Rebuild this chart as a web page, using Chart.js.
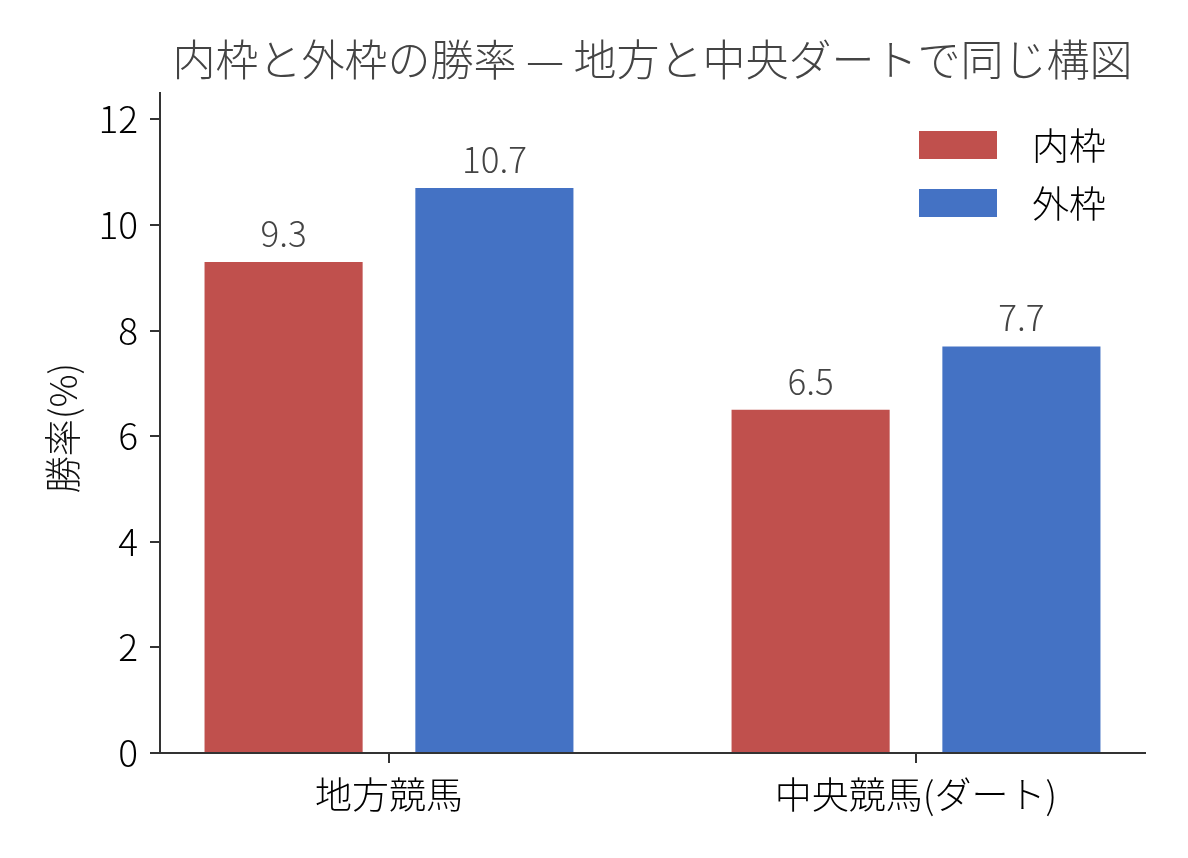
<!DOCTYPE html>
<html lang="ja">
<head>
<meta charset="utf-8">
<title>内枠と外枠の勝率</title>
<script src="https://cdn.jsdelivr.net/npm/chart.js@4.4.1/dist/chart.umd.min.js"></script>
<style>
  html, body { margin: 0; padding: 0; background: #fff; }
  #wrap { width: 1188px; height: 858px; }
</style>
</head>
<body>
<div id="wrap"><canvas id="rateChart" width="1188" height="858"></canvas></div>
<script>
const categories = ["地方競馬", "中央競馬(ダート)"];
const seriesNames = ["内枠", "外枠"];
const innerRates = [9.3, 6.5];
const outerRates = [10.7, 7.7];
const yTicks = [0, 2, 4, 6, 8, 10, 12];

const FONT = "'Noto Sans CJK JP', 'Noto Sans', sans-serif";
const RED = "#C0504D";
const BLUE = "#4472C4";
const AXIS = "#333333";

// title, y label, value labels, legend
const extras = {
  id: "extras",
  afterDraw(chart) {
    const ctx = chart.ctx;
    const area = chart.chartArea;
    ctx.save();

    ctx.fillStyle = "#444";
    ctx.font = "300 43px " + FONT;
    ctx.textAlign = "center";
    ctx.textBaseline = "middle";
    ctx.fillText("内枠と外枠の勝率 — 地方と中央ダートで同じ構図", (area.left + area.right) / 2, 60);

    ctx.save();
    ctx.translate(63, (area.top + area.bottom) / 2 + 5);
    ctx.rotate(-Math.PI / 2);
    ctx.fillStyle = "#111";
    ctx.font = "300 37px " + FONT;
    ctx.fillText("勝率(%)", 0, 0);
    ctx.restore();

    ctx.fillStyle = "#444";
    ctx.font = "300 35px " + FONT;
    ctx.textBaseline = "bottom";
    chart.data.datasets.forEach((ds, i) => {
      chart.getDatasetMeta(i).data.forEach((bar, j) => {
        ctx.fillText(ds.data[j].y.toFixed(1), bar.x, bar.y - 11);
      });
    });

    ctx.font = "300 37px " + FONT;
    ctx.textAlign = "left";
    ctx.textBaseline = "middle";
    chart.data.datasets.forEach((ds, i) => {
      const top = 131 + i * 58;
      ctx.fillStyle = ds.backgroundColor;
      ctx.fillRect(919, top, 78, 28);
      ctx.fillStyle = "#000";
      ctx.fillText(ds.label, 1032, top + 15);
    });

    ctx.restore();
  }
};

new Chart(document.getElementById("rateChart"), {
  type: "bar",
  data: {
    datasets: [
      {
        label: seriesNames[0],
        data: innerRates.map((v, i) => ({ x: i, y: v })),
        backgroundColor: RED
      },
      {
        label: seriesNames[1],
        data: outerRates.map((v, i) => ({ x: i, y: v })),
        backgroundColor: BLUE
      }
    ]
  },
  options: {
    responsive: false,
    devicePixelRatio: 1,
    animation: false,
    categoryPercentage: 0.8,
    barPercentage: 0.75,
    layout: { padding: { top: 93, right: 43, left: 0, bottom: 0 } },
    plugins: {
      legend: { display: false },
      title: { display: false },
      tooltip: { enabled: false }
    },
    scales: {
      x: {
        type: "linear",
        offset: false,
        min: -0.4345,
        max: 1.4345,
        afterBuildTicks: (scale) => { scale.ticks = categories.map((c, i) => ({ value: i })); },
        afterFit: (scale) => { scale.height = 105; },
        ticks: {
          color: "#000",
          padding: 10,
          font: { family: FONT, size: 37, weight: 300 },
          callback: (v) => categories[v]
        },
        grid: { offset: false, drawOnChartArea: false, drawTicks: true, tickLength: 10, color: AXIS, lineWidth: 2 },
        border: { display: true, color: AXIS, width: 2 }
      },
      y: {
        min: 0,
        max: 12.5,
        afterBuildTicks: (scale) => { scale.ticks = yTicks.map(v => ({ value: v })); },
        afterFit: (scale) => { scale.width = 160; },
        ticks: {
          color: "#000",
          padding: 12,
          font: { family: FONT, size: 37, weight: 300 }
        },
        grid: { drawOnChartArea: false, drawTicks: true, tickLength: 10, color: AXIS, lineWidth: 2 },
        border: { display: true, color: AXIS, width: 2 }
      }
    }
  },
  plugins: [extras]
});
</script>
</body>
</html>
